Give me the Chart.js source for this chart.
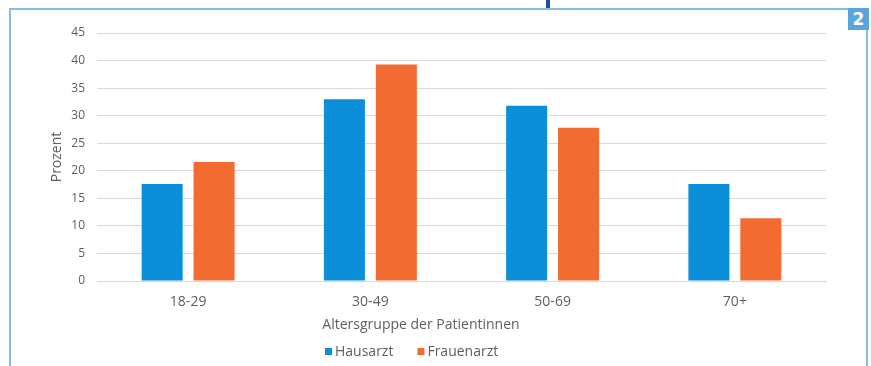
<!DOCTYPE html>
<html>
<head>
<meta charset="utf-8">
<script src="https://cdn.jsdelivr.net/npm/chart.js@4"></script>
<style>
    body { margin: 0; background: #fff; }
    #wrap { position: relative; width: 871px; height: 366px; overflow: hidden; }
    #frame { position: absolute; left: 9px; top: 8px; width: 859px; height: 380px;
             border-top: 2px solid #86bde8; border-left: 2px solid #86bde8; border-right: 2px solid #86bde8; box-sizing: border-box; }
    #mark { position: absolute; left: 546px; top: 0; width: 4px; height: 8px; background: #1d4f9c; }
    #badge { position: absolute; left: 848px; top: 8px; width: 21px; height: 22px; background: #5aa6dc;
             color: #fff; font: bold 17px "DejaVu Sans", sans-serif; text-align: center; line-height: 22px; }
    canvas { position: absolute; left: 0; top: 0; }
</style>
</head>
<body>
<div id="wrap">
    <div id="frame"></div>
    <div id="mark"></div>
    <div id="badge">2</div>
    <canvas id="chart" width="871" height="366"></canvas>
</div>
<script>
const categories = ['18-29', '30-49', '50-69', '70+'];
const hausarzt = [17.6, 33.0, 31.8, 17.6];
const frauenarzt = [21.6, 39.3, 27.8, 11.4];
const yTicks = [0, 5, 10, 15, 20, 25, 30, 35, 40, 45];

const textColor = '#5e5e5e';
const fontFamily = '"Open Sans", sans-serif';

// x-axis title and legend sit left of centre in the original, so draw them by hand
const bottomText = {
    id: 'bottomText',
    afterDraw(chart) {
        const ctx = chart.ctx;
        ctx.save();
        ctx.fillStyle = textColor;
        ctx.font = '14px ' + fontFamily;
        ctx.textAlign = 'center';
        ctx.textBaseline = 'middle';
        ctx.fillText('Altersgruppe der Patientinnen', 421, 325);

        ctx.textAlign = 'left';
        ctx.font = '14px ' + fontFamily;
        let x = 325;
        chart.data.datasets.forEach(ds => {
            ctx.fillStyle = ds.backgroundColor;
            ctx.fillRect(x, 348, 7, 7);
            ctx.fillStyle = textColor;
            ctx.fillText(ds.label, x + 10, 352);
            x += 10 + ctx.measureText(ds.label).width + 24;
        });
        ctx.restore();
    }
};

new Chart(document.getElementById('chart'), {
    type: 'bar',
    data: {
        labels: categories,
        datasets: [
            { label: 'Hausarzt', data: hausarzt, backgroundColor: '#0b8fd8' },
            { label: 'Frauenarzt', data: frauenarzt, backgroundColor: '#f26b30' }
        ]
    },
    options: {
        responsive: false,
        animation: false,
        categoryPercentage: 0.57,
        barPercentage: 0.79,
        layout: { padding: { left: 45, right: 45, top: 33, bottom: 0 } },
        plugins: {
            legend: { display: false },
            tooltip: { enabled: false }
        },
        scales: {
            x: {
                grid: { display: false, drawTicks: false },
                border: { display: true, color: '#d9d9d9' },
                ticks: { color: textColor, font: { family: fontFamily, size: 14 }, padding: 13 },
                afterFit(scale) { scale.height = 85; }
            },
            y: {
                min: 0,
                max: 45,
                afterBuildTicks(scale) { scale.ticks = yTicks.map(v => ({ value: v })); },
                grid: { color: '#d9d9d9', drawTicks: false },
                border: { display: false },
                ticks: { color: textColor, font: { family: fontFamily, size: 12 }, padding: 12 },
                title: { display: true, text: 'Prozent', color: textColor, font: { family: fontFamily, size: 14 }, padding: { top: 4, bottom: 0 } },
                afterFit(scale) { scale.width = 52; }
            }
        }
    },
    plugins: [bottomText]
});
</script>
</body>
</html>
